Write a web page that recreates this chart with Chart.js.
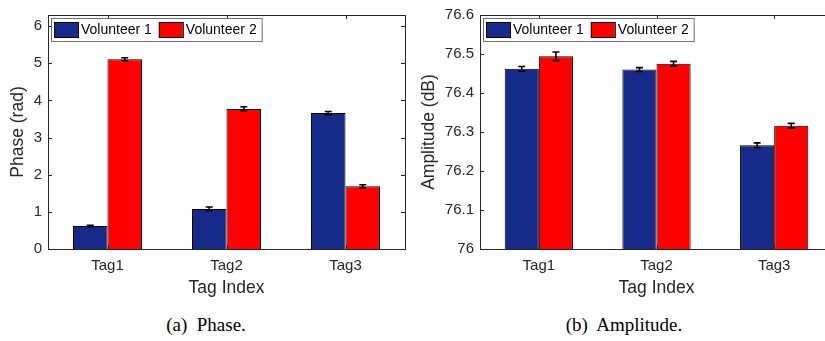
<!DOCTYPE html>
<html>
<head>
<meta charset="utf-8">
<script src="https://cdn.jsdelivr.net/npm/chart.js@4/dist/chart.umd.min.js"></script>
<style>
  html, body { margin: 0; padding: 0; background: #fff; width: 825px; height: 341px; overflow: hidden; position: relative; }
  canvas { position: absolute; top: 0; }
  .cap { position: absolute; top: 314px; font-family: 'Liberation Serif', 'Times New Roman', serif; font-size: 19px; color: #000; white-space: pre; transform: translateX(-50%); }
</style>
</head>
<body>
<canvas id="phase" width="412" height="300" style="left:0"></canvas>
<canvas id="amp" width="430" height="300" style="left:412px"></canvas>
<div class="cap" style="left:206px">(a)  Phase.</div>
<div class="cap" style="left:624px">(b)  Amplitude.</div>
<script>
const tags = ['Tag1', 'Tag2', 'Tag3']
const volunteers = ['Volunteer 1', 'Volunteer 2']
const colors = ['rgb(22, 42, 138)', 'rgb(255, 0, 0)']

const phaseV1 = [0.62, 1.08, 3.66]
const phaseV2 = [5.11, 3.77, 1.69]
const phaseErrV1 = [0.02, 0.05, 0.04]
const phaseErrV2 = [0.04, 0.06, 0.04]

const ampV1 = [76.462, 76.460, 76.266]
const ampV2 = [76.494, 76.475, 76.316]
const ampErrV1 = [0.006, 0.005, 0.006]
const ampErrV2 = [0.011, 0.006, 0.006]

const axisColor = '#262626'
Chart.defaults.font.family = '"Liberation Sans", Arial, Helvetica, sans-serif'
Chart.defaults.color = axisColor

// error bars drawn from each bar's value through the y scale
const errorBars = {
  id: 'errorBars',
  afterDatasetsDraw(chart) {
    const { ctx } = chart
    const y = chart.scales.y
    ctx.save()
    ctx.strokeStyle = '#000'
    ctx.lineWidth = 1.6
    chart.data.datasets.forEach((ds, i) => {
      chart.getDatasetMeta(i).data.forEach((bar, j) => {
        const lo = y.getPixelForValue(ds.data[j] - ds.errors[j])
        const hi = y.getPixelForValue(ds.data[j] + ds.errors[j])
        ctx.beginPath()
        ctx.moveTo(bar.x, lo); ctx.lineTo(bar.x, hi)
        ctx.moveTo(bar.x - 3.5, lo); ctx.lineTo(bar.x + 3.5, lo)
        ctx.moveTo(bar.x - 3.5, hi); ctx.lineTo(bar.x + 3.5, hi)
        ctx.stroke()
      })
    })
    ctx.restore()
  }
}

// matlab style box with inward ticks
const boxAxes = {
  id: 'boxAxes',
  afterDraw(chart) {
    const { ctx, chartArea: ca } = chart
    const xs = chart.scales.x, ys = chart.scales.y
    const len = 4
    ctx.save()
    ctx.strokeStyle = axisColor
    ctx.lineWidth = 1
    ctx.strokeRect(ca.left + 0.5, ca.top + 0.5, ca.right - ca.left, ca.bottom - ca.top)
    ctx.beginPath()
    xs.ticks.forEach((t, i) => {
      const px = Math.round(xs.getPixelForTick(i)) + 0.5
      ctx.moveTo(px, ca.bottom); ctx.lineTo(px, ca.bottom - len)
      ctx.moveTo(px, ca.top); ctx.lineTo(px, ca.top + len)
    })
    ys.ticks.forEach(t => {
      const py = Math.round(ys.getPixelForValue(t.value)) + 0.5
      ctx.moveTo(ca.left, py); ctx.lineTo(ca.left + len, py)
      ctx.moveTo(ca.right, py); ctx.lineTo(ca.right - len, py)
    })
    ctx.stroke()
    ctx.restore()
  }
}

// legend box inside the axes, top left
const boxLegend = {
  id: 'boxLegend',
  afterDraw(chart) {
    const { ctx, chartArea: ca } = chart
    const x0 = ca.left + 3, y0 = ca.top + 3
    const sw = 24, sh = 15
    ctx.save()
    ctx.font = '14px "Liberation Sans", Arial, sans-serif'
    const items = chart.data.datasets.map(d => ({ label: d.label, color: d.backgroundColor }))
    let w = 3
    items.forEach(it => { w += sw + 3 + ctx.measureText(it.label).width + 7 })
    w -= 2
    const h = 23
    ctx.fillStyle = '#fff'
    ctx.fillRect(x0, y0, w, h)
    ctx.strokeStyle = '#6e6e6e'
    ctx.lineWidth = 1
    ctx.strokeRect(x0 + 0.5, y0 + 0.5, w, h)
    let x = x0 + 3
    ctx.textBaseline = 'middle'
    items.forEach(it => {
      ctx.fillStyle = it.color
      ctx.fillRect(x, y0 + 4, sw, sh)
      ctx.strokeStyle = '#000'
      ctx.strokeRect(x + 0.5, y0 + 4.5, sw, sh)
      ctx.fillStyle = '#000'
      ctx.fillText(it.label, x + sw + 3, y0 + h / 2 + 1)
      x += sw + 3 + ctx.measureText(it.label).width + 7
    })
    ctx.restore()
  }
}

const barChart = (ctx, opts) => {
  return new Chart(ctx, {
    type: 'bar',
    data: {
      labels: tags,
      datasets: [
        { label: volunteers[0], data: opts.v1, errors: opts.e1, backgroundColor: colors[0] },
        { label: volunteers[1], data: opts.v2, errors: opts.e2, backgroundColor: colors[1] },
      ],
    },
    options: {
      responsive: false,
      animation: false,
      layout: { padding: { top: 11, right: opts.padRight, left: 0, bottom: 0 } },
      datasets: {
        bar: { borderColor: '#000', borderWidth: 1, barPercentage: 1, categoryPercentage: 0.58 },
      },
      plugins: { legend: { display: false }, tooltip: { enabled: false } },
      scales: {
        x: {
          grid: { display: false, drawTicks: false },
          border: { display: false },
          ticks: { padding: 8, font: { size: 15 }, color: axisColor },
          title: { display: true, text: 'Tag Index', font: { size: 17.5 }, color: axisColor, padding: { top: 0, bottom: 1.5 } },
          afterFit: s => { s.height = 51 },
        },
        y: {
          min: opts.min,
          max: opts.max,
          grid: { display: false, drawTicks: false },
          border: { display: false },
          ticks: {
            stepSize: opts.step, includeBounds: false, padding: 6, font: { size: 15 }, color: axisColor,
            callback: v => String(Math.round(v * 10) / 10),
          },
          title: { display: true, text: opts.yTitle, font: { size: 17.5 }, color: axisColor, padding: { top: opts.titlePad, bottom: 0 } },
          afterFit: s => { s.width = opts.yWidth },
        },
      },
    },
    plugins: [errorBars, boxAxes, boxLegend],
  })
}

barChart(document.getElementById('phase'), {
  v1: phaseV1, v2: phaseV2, e1: phaseErrV1, e2: phaseErrV2,
  min: 0, max: 6.3, step: 1, yTitle: 'Phase (rad)', yWidth: 48, titlePad: 7.5, padRight: 7,
})

barChart(document.getElementById('amp'), {
  v1: ampV1, v2: ampV2, e1: ampErrV1, e2: ampErrV2,
  min: 76, max: 76.6, step: 0.1, yTitle: 'Amplitude (dB)', yWidth: 68, titlePad: 7, padRight: 9,
})
</script>
</body>
</html>
